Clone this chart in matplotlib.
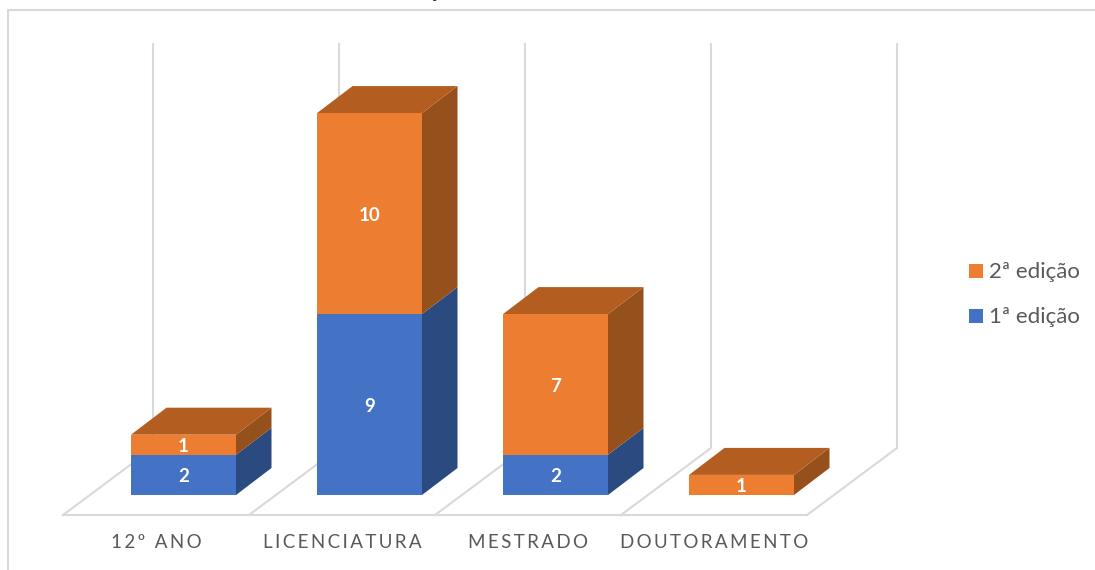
import matplotlib
matplotlib.use("Agg")
import matplotlib.pyplot as plt

categories = ["12º ANO", "LICENCIATURA", "MESTRADO", "DOUTORAMENTO"]
edicao1 = [2, 9, 2, 0]
edicao2 = [1, 10, 7, 1]
series_names = ["1ª edição", "2ª edição"]

GRID = "#d9d9d9"
TXT = "#595959"
# (front, side, top)
BLUE = ("#4472C4", "#2A4A80", "#335A9C")
ORANGE = ("#ED7D31", "#96501B", "#B45D20")

# one category is 186 px wide, one unit is 20.1 px high
px_x = 186.0
px_y = 20.1
x0 = 183.5
y0 = 495.0

bar_w = 105 / px_x
dep_x = 35.5 / px_x
dep_y = 27 / px_y
floor_dx = 90 / px_x
floor_back = 47 / px_y
floor_front = -20 / px_y
wall_top = 451 / px_y

plt.rcParams['font.family'] = ['Lato', 'DejaVu Sans']

fig = plt.figure(figsize=(10.95, 5.70), dpi=100)
ax = fig.add_axes([0, 0, 1, 1])
ax.set_xlim(-x0 / px_x, (1095 - x0) / px_x)
ax.set_ylim((y0 - 570) / px_y, y0 / px_y)
ax.axis("off")

# chart frame
ax.plot([(8 - x0) / px_x, (8 - x0) / px_x, (1095 - x0) / px_x],
        [(y0 - 570) / px_y, (y0 - 10) / px_y, (y0 - 10) / px_y],
        color=GRID, lw=1.5, zorder=1)

# floor and back walls
for i in range(5):
    fx = (63 - x0) / px_x + i * 1.0
    bx = fx + floor_dx
    ax.plot([fx, bx, bx], [floor_front, floor_back, wall_top], color=GRID, lw=1.5, zorder=1)
ax.plot([(63 - x0) / px_x, (63 - x0) / px_x + 4], [floor_front, floor_front], color=GRID, lw=1.5, zorder=1)

def draw_seg(x, bottom, h, colors, with_top, z):
    l = x - bar_w / 2
    r = x + bar_w / 2
    t = bottom + h
    ax.fill([r, r + dep_x, r + dep_x, r], [bottom, bottom + dep_y, t + dep_y, t],
            color=colors[1], lw=0, zorder=z)
    if with_top:
        ax.fill([l, r, r + dep_x, l + dep_x], [t, t, t + dep_y, t + dep_y],
                color=colors[2], lw=0, zorder=z)
    ax.fill([l, r, r, l], [bottom, bottom, t, t], color=colors[0], lw=0, zorder=z + 0.1)

for i in range(len(categories)):
    z = 3 + i
    if edicao1[i] > 0:
        draw_seg(i, 0, edicao1[i], BLUE, edicao2[i] == 0, z)
        ax.text(i, edicao1[i] / 2 - 2 / px_y, str(edicao1[i]), color="white", fontsize=13.5, fontweight="bold",
                ha="center", va="center", zorder=10)
    if edicao2[i] > 0:
        draw_seg(i, edicao1[i], edicao2[i], ORANGE, True, z + 0.2)
        ax.text(i, edicao1[i] + edicao2[i] / 2 - 2 / px_y, str(edicao2[i]), color="white", fontsize=13.5,
                fontweight="bold", ha="center", va="center", zorder=10)

    # letter spacing with thin spaces
    lab = "\u2009".join(categories[i]).replace("\u2009 \u2009", "  ")
    ax.text(i - 27 / px_x, -48 / px_y, lab, color=TXT, fontsize=13.5, ha="center", va="center")

# legend
for name, col, yy in [(series_names[1], ORANGE[0], 271), (series_names[0], BLUE[0], 316)]:
    ax.scatter([(976 - x0) / px_x], [(y0 - yy) / px_y], marker="s", s=100, color=col, lw=0)
    ax.text((989 - x0) / px_x, (y0 - yy - 1) / px_y, name, color=TXT, fontsize=16, ha="left", va="center")

# what is left of the cropped title
ax.text((433 - x0) / px_x, (y0 + 3) / px_y, "ç", color="#222222", fontsize=15, ha="center", va="baseline", clip_on=True)

fig.savefig("out.png", dpi=100)
